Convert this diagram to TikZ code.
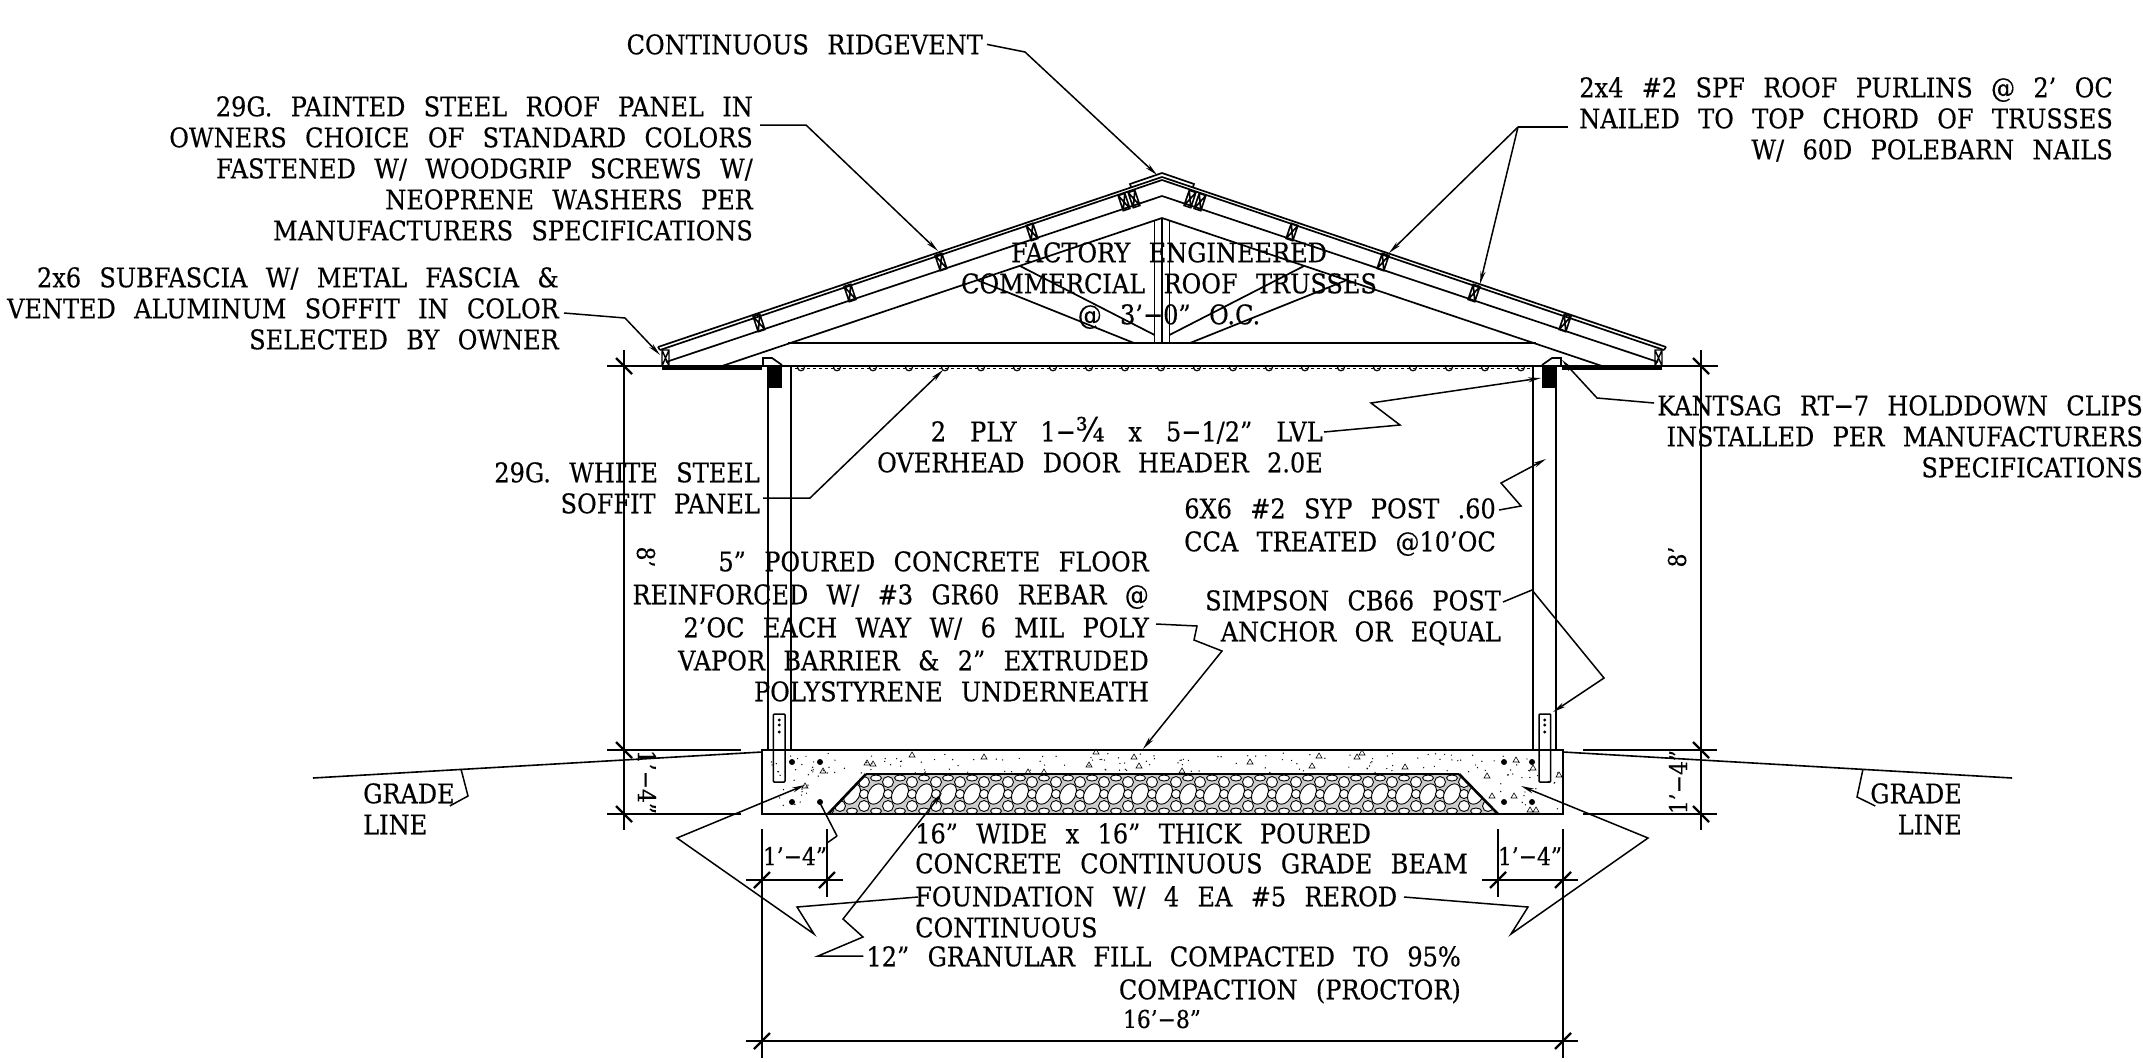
\documentclass[tikz,border=0pt]{standalone}
\usepackage{fontspec}
\setmainfont[FakeStretch=0.89,WordSpace=2.4,FakeBold=0.4]{DejaVu Serif}
\usepackage{tikz}
\usetikzlibrary{arrows.meta, positioning}

\begin{document}
\begin{tikzpicture}[x=1pt,y=-1pt,line join=miter,
  note/.style = {inner sep=0pt, align=right, font=\fontsize{27}{31}\selectfont},
  dimtext/.style = {inner sep=0pt, font=\fontsize{24.5}{28}\selectfont},
  leader/.style = {line width=1.5pt},
  leadarrow/.style = {leader, -{Stealth[length=13pt,width=5pt]}},
  dimline/.style = {line width=1.6pt},
  tick/.style = {line width=2.4pt},
  member/.style = {line width=1.7pt},
  slab/.style = {line width=2.6pt}]
\useasboundingbox (0,0) rectangle (2143,1061);

% gravel bed
\begin{scope}
\clip (866,774) -- (1459,774) -- (1498,814) -- (828,814) -- cycle;
\fill[gray!40] (820,770) rectangle (1505,816);
\foreach \gx in {828,852,...,1500} {
  \draw[line width=0.9pt,fill=white] (\gx,794) ellipse [x radius=7.5,y radius=11,rotate=-30];
  \draw[line width=0.9pt,fill=white] (\gx+12,794) circle (4.5);
  \draw[line width=0.9pt,fill=white] (\gx+12,782) circle (5.5);
  \draw[line width=0.9pt,fill=white] (\gx+12,806) circle (5.5);
  \draw[line width=0.9pt,fill=white] (\gx,778) ellipse [x radius=5.5,y radius=3];
  \draw[line width=0.9pt,fill=white] (\gx,811) ellipse [x radius=5.5,y radius=3];
}
\end{scope}
\draw[slab] (866,774) -- (1459,774);
\draw[slab] (828,814) -- (866,774);
\draw[slab] (1459,774) -- (1498,814);

% roof, post and footing, once for each side
\foreach \side in {1,-1} {
\begin{scope}[shift={(1162,0)},xscale=\side]
\draw[member] (-504,347) -- (0,177);
\draw[member] (-502,350) -- (0,180);
\draw[member] (-504,347) -- (-502,350);
\draw[member] (0,173) -- (-32,184) -- (-31,187);
\draw[member] (-496,362) -- (0,196);
\draw[member] (-440,366) -- (0,218);
\draw[member] (-374,343) -- (0,343);
\draw[member] (-185,280) -- (-28,343);
\draw[member] (-142,266) -- (-7.4,335);
\draw[member] (-7.4,221) -- (-7.4,343);
\draw[member] (0,218) -- (0,343);
\foreach \px/\py in {-403/323,-312/293,-221/262,-130/232,-38/202,-28/199} {
  \draw[line width=1.6pt,shift={(\px,\py)},rotate=18.6] (-3.5,-8) rectangle (3.5,8) (-3.5,-8) -- (3.5,8) (3.5,-8) -- (-3.5,8);
}
\draw[line width=1.4pt] (-500,350) rectangle (-493,366) (-500,350) -- (-493,366) (-493,350) -- (-500,366);
\draw[line width=3.2pt] (-500,368) -- (-400,368);
\draw[member] (-399,366) -- (-399,358) -- (-390,358) -- (-380,365);
\fill (-394,366) rectangle (-380,388);
\draw[member] (-394,366) -- (-394,750);
\draw[member] (-371.3,366) -- (-371.3,750);
\draw[line width=1.5pt,rounded corners=1pt,fill=white] (-388.7,714) rectangle (-377,782);
\draw[line width=1.5pt] (-388.7,750) -- (-377,750);
\foreach \py in {720,725,732} {\fill (-382.7,\py) circle (1.6);}
\foreach \rx/\ry in {-370/762,-342/762,-370/802,-342/802} {\fill (\rx,\ry) circle (3);}
\end{scope}
}

% ceiling and soffit
\draw[line width=2pt] (607,366) -- (1718,366);
\draw[line width=0.8pt,dashed] (795,368) -- (1530,368);
\foreach \bx in {801,837,...,1525} {
  \draw[line width=1.2pt] (\bx-3.5,367) .. controls (\bx-3.5,372) and (\bx+3.5,372) .. (\bx+3.5,367);
}

% footing
\draw[slab] (762,750) rectangle (1563,814);
\foreach \cx/\cy in {912/755,984/757,1096/752,1134/757,1089/765,1139/766,1182/771,1028/772,1044/772,867/763,873/764,823/771,805/786,1250/762,1319/756,1357/757,1362/753,1312/766,1405/767,1516/760,1533/768,1487/776,1559/775,1492/796,1514/796,1530/810,1536/810} {
  \draw[line width=0.6pt] (\cx,\cy) +(0,-3) -- +(3,2) -- +(-3,2) -- cycle;
}
\pgfmathsetseed{4}
\foreach \i in {1,...,140} {\fill ({770+rnd*785},{753+rnd*20}) circle (0.7);}
\foreach \i in {1,...,20} {\fill ({768+rnd*55},{770+rnd*42}) circle (0.7);}
\foreach \i in {1,...,20} {\fill ({1500+rnd*58},{770+rnd*42}) circle (0.7);}

% grade lines
\draw[line width=1.6pt] (313,778) -- (762,752);
\draw[line width=1.6pt] (1563,752) -- (2012,778);

% dimensions
\draw[dimline] (607,750) -- (741,750);
\draw[dimline] (607,814) -- (741,814);
\draw[dimline] (1583,750) -- (1717,750);
\draw[dimline] (1583,814) -- (1717,814);
\draw[dimline] (624,350) -- (624,830);
\draw[dimline] (1701,350) -- (1701,830);
\draw[dimline] (762,829) -- (762,1058);
\draw[dimline] (1563,829) -- (1563,1058);
\draw[dimline] (827,829) -- (827,897);
\draw[dimline] (1498,829) -- (1498,897);
\draw[dimline] (746,880) -- (843,880);
\draw[dimline] (1482,880) -- (1578,880);
\draw[dimline] (746,1041) -- (1578,1041);
\foreach \tx/\ty in {624/366,624/750,624/814,1701/366,1701/750,1701/814} {
  \draw[tick] (\tx,\ty) +(-8,-8) -- +(8,8);
}
\foreach \tx/\ty in {762/880,827/880,1498/880,1563/880,762/1041,1563/1041} {
  \draw[tick] (\tx,\ty) +(-8,8) -- +(8,-8);
}
\node[dimtext,rotate=-90] (eightleft) at (646,557) {8’};
\node[dimtext,rotate=90] (eightright) at (1677,557) {8’};
\node[dimtext,rotate=-90] (footleft) at (647,782) {1’−4”};
\node[dimtext,rotate=90] (footright) at (1678,782) {1’−4”};
\node[dimtext] (beamleft) at (795,856) {1’−4”};
\node[dimtext] (beamright) at (1530,856) {1’−4”};
\node[dimtext] (widthtext) at (1162,1019) {16’−8”};

% notes
\node[note,anchor=north east] (ridgenote) at (983,34) {CONTINUOUS RIDGEVENT};
\node[note,anchor=north east] (panelnote) at (753,96) {29G. PAINTED STEEL ROOF PANEL IN\\OWNERS CHOICE OF STANDARD COLORS\\FASTENED W/ WOODGRIP SCREWS W/\\NEOPRENE WASHERS PER\\MANUFACTURERS SPECIFICATIONS};
\node[note,anchor=north east] (fascianote) at (559,267) {2x6 SUBFASCIA W/ METAL FASCIA \&\\VENTED ALUMINUM SOFFIT IN COLOR\\SELECTED BY OWNER};
\node[note,anchor=north east] (purlinnote) at (2113,77) {2x4 \#2 SPF ROOF PURLINS @ 2’ OC\\NAILED TO TOP CHORD OF TRUSSES\\W/ 60D POLEBARN NAILS};
\node[note,anchor=north,align=center] (trussnote) at (1169,242) {FACTORY ENGINEERED\\COMMERCIAL ROOF TRUSSES\\@ 3’−0” O.C.};
\node[note,anchor=north east] (headernote) at (1323,421) {{\spaceskip=24pt 2 PLY 1−\smash{\fontsize{33}{31}\selectfont ¾} x 5−1/2” LVL}\\OVERHEAD DOOR HEADER 2.0E};
\node[note,anchor=north east] (soffitnote) at (760,462) {29G. WHITE STEEL\\SOFFIT PANEL};
\node[note,anchor=north east] (postnote) at (1496,498) {6X6 \#2 SYP POST .60\\[2pt]CCA TREATED @10’OC};
\node[note,anchor=north east] (anchornote) at (1501,590) {SIMPSON CB66 POST\\ANCHOR OR EQUAL};
\node[note,anchor=north east] (floornote) at (1149,551) {5” POURED CONCRETE FLOOR\\[2pt]REINFORCED W/ \#3 GR60 REBAR @\\[2pt]2’OC EACH WAY W/ 6 MIL POLY\\[2pt]VAPOR BARRIER \& 2” EXTRUDED\\POLYSTYRENE UNDERNEATH};
\node[note,anchor=north west,align=left] (beamnote) at (915,823) {16” WIDE x 16” THICK POURED\\[-1pt]CONCRETE CONTINUOUS GRADE BEAM\\[2pt]FOUNDATION W/ 4 EA \#5 REROD\\CONTINUOUS};
\node[note,anchor=north east] (fillnote) at (1461,946) {12” GRANULAR FILL COMPACTED TO 95\%\\[2pt]COMPACTION (PROCTOR)};
\node[note,anchor=north east] (clipnote) at (2143,395) {KANTSAG RT−7 HOLDDOWN CLIPS\\INSTALLED PER MANUFACTURERS\\SPECIFICATIONS};
\node[note,anchor=north west,align=left] (gradeleft) at (363,783) {GRADE\\LINE};
\node[note,anchor=north east] (graderight) at (1962,783) {GRADE\\LINE};

% leader ends
\coordinate (ridgetip) at (1157,175);
\coordinate (paneltip) at (938,251);
\coordinate (fasciatip) at (660,355);
\coordinate (purlintipa) at (1389,253);
\coordinate (purlintipb) at (1480,284);
\coordinate (headertip) at (1541,378);
\coordinate (soffittip) at (943,370);
\coordinate (posttip) at (1546,459);
\coordinate (anchortip) at (1553,712);
\coordinate (floortip) at (1143,749);
\coordinate (cliptip) at (1562,360);
\coordinate (rerodtipa) at (805,785);
\coordinate (rerodtipb) at (1521,786);
\coordinate (rebartip) at (820,803);
\coordinate (filltip) at (942,793);
\coordinate (gradetipa) at (461,769);
\coordinate (gradetipb) at (1863,769);

\draw[leadarrow] (ridgenote.east) ++(4,0) -- (1025,52) -- (ridgetip);
\draw[leadarrow] ([xshift=7pt,yshift=-29pt]panelnote.north east) -- (806,125) -- (paneltip);
\draw[leadarrow] ([xshift=5pt,yshift=-46pt]fascianote.north east) -- (625,318) -- (fasciatip);
\draw[leader] (1568,127) -- (1518,127);
\draw[leadarrow] (1518,127) -- (purlintipa);
\draw[leadarrow] (1518,127) -- (purlintipb);
\draw[leadarrow] ([xshift=1pt,yshift=-11pt]headernote.north east) -- (1400,425) -- (1371,403) -- (headertip);
\draw[leadarrow] ([xshift=3pt,yshift=-36pt]soffitnote.north east) -- (810,498) -- (soffittip);
\draw[leadarrow] ([xshift=3pt,yshift=-12pt]postnote.north east) -- (1521,506) -- (1501,483) -- (posttip);
\draw[leadarrow] ([xshift=2pt,yshift=-12pt]anchornote.north east) -- (1532,590) -- (1604,678) -- (anchortip);
\draw[leadarrow] ([xshift=7pt,yshift=-73pt]floornote.north east) -- (1197,626) -- (1194,640) -- (1222,651) -- (floortip);
\draw[leadarrow] ([xshift=-3pt,yshift=-8pt]clipnote.north west) -- (1597,398) -- (cliptip);
\draw[leadarrow] ([xshift=3pt,yshift=-74pt]beamnote.north west) -- (797,907) -- (814,934) -- (677,838) -- (rerodtipa);
\draw[leadarrow] (1404,897) -- (1528,907) -- (1511,934) -- (1648,838) -- (rerodtipb);
\draw[leader] (837,836) -- (827,843);
\draw[leader] (rebartip) -- (837,836);
\draw[leadarrow] ([xshift=-3pt,yshift=-10pt]fillnote.north west) -- (818,956) -- (863,937) -- (843,919) -- (filltip);
\draw[leader] (gradeleft.east) ++(-5,-3) -- (468,796) -- (gradetipa);
\draw[leader] (graderight.west) ++(5,-3) -- (1857,797) -- (gradetipb);
\end{tikzpicture}
\end{document}
